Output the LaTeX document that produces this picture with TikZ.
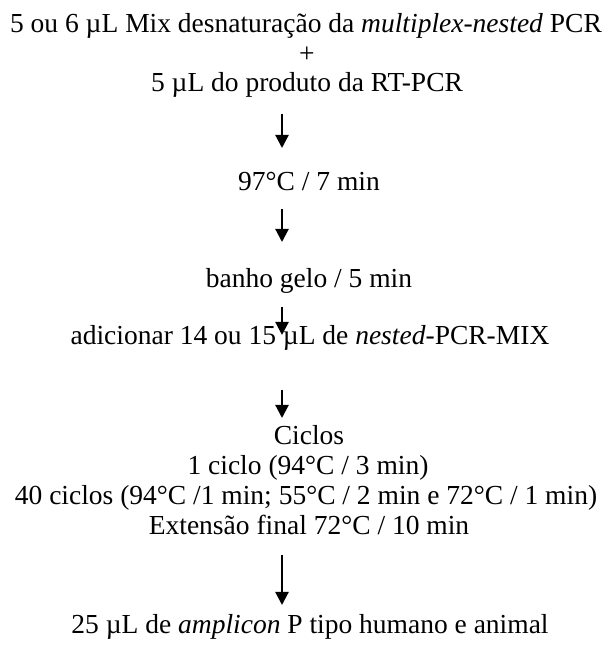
\documentclass[tikz,border=0pt]{standalone}
\usepackage{fontspec}
\setmainfont{Liberation Serif}
\usetikzlibrary{arrows.meta}
\begin{document}
\begin{tikzpicture}[x=1pt,y=1pt,
  txt/.style={inner sep=0pt,anchor=base,font=\fontsize{27.5}{30}\selectfont},
  arr/.style={line width=2.2pt,-{Triangle[width=13pt,length=13pt]}}]
\useasboundingbox (0,0) rectangle (609,645);
\node[txt] (t1) at (306,612) {5 ou 6 µL Mix desnaturação da \textit{multiplex-nested} PCR};
\node[txt,anchor=center] (plus) at (307,590) {+};
\node[txt] (t2) at (307,553) {5 µL do produto da RT-PCR};
\coordinate (a1s) at (282,531);
\coordinate (a1e) at (282,497);
\node[txt] (t3) at (309,454) {97°C / 7 min};
\coordinate (a2s) at (282,436);
\coordinate (a2e) at (282,403);
\node[txt] (t4) at (309,357) {banho gelo / 5 min};
\node[txt] (t5) at (310,300) {adicionar 14 ou 15 µL de \textit{nested}-PCR-MIX};
\coordinate (a3s) at (282,338);
\coordinate (a3e) at (282,310);
\coordinate (a4s) at (282,255);
\coordinate (a4e) at (282,227);
\node[txt] (c1) at (309,200) {Ciclos};
\node[txt] (c2) at (308,170) {1 ciclo (94°C / 3 min)};
\node[txt] (c3) at (306,140) {40 ciclos (94°C /1 min; 55°C / 2 min e 72°C / 1 min)};
\node[txt] (c4) at (309,110) {Extensão final 72°C / 10 min};
\coordinate (a5s) at (282,90);
\coordinate (a5e) at (282,40);
\node[txt] (t6) at (310,11) {25 µL de \textit{amplicon} P tipo humano e animal};
\draw[arr] (a1s) -- (a1e);
\draw[arr] (a2s) -- (a2e);
\draw[arr] (a3s) -- (a3e);
\draw[arr] (a4s) -- (a4e);
\draw[arr] (a5s) -- (a5e);
\end{tikzpicture}
\end{document}
